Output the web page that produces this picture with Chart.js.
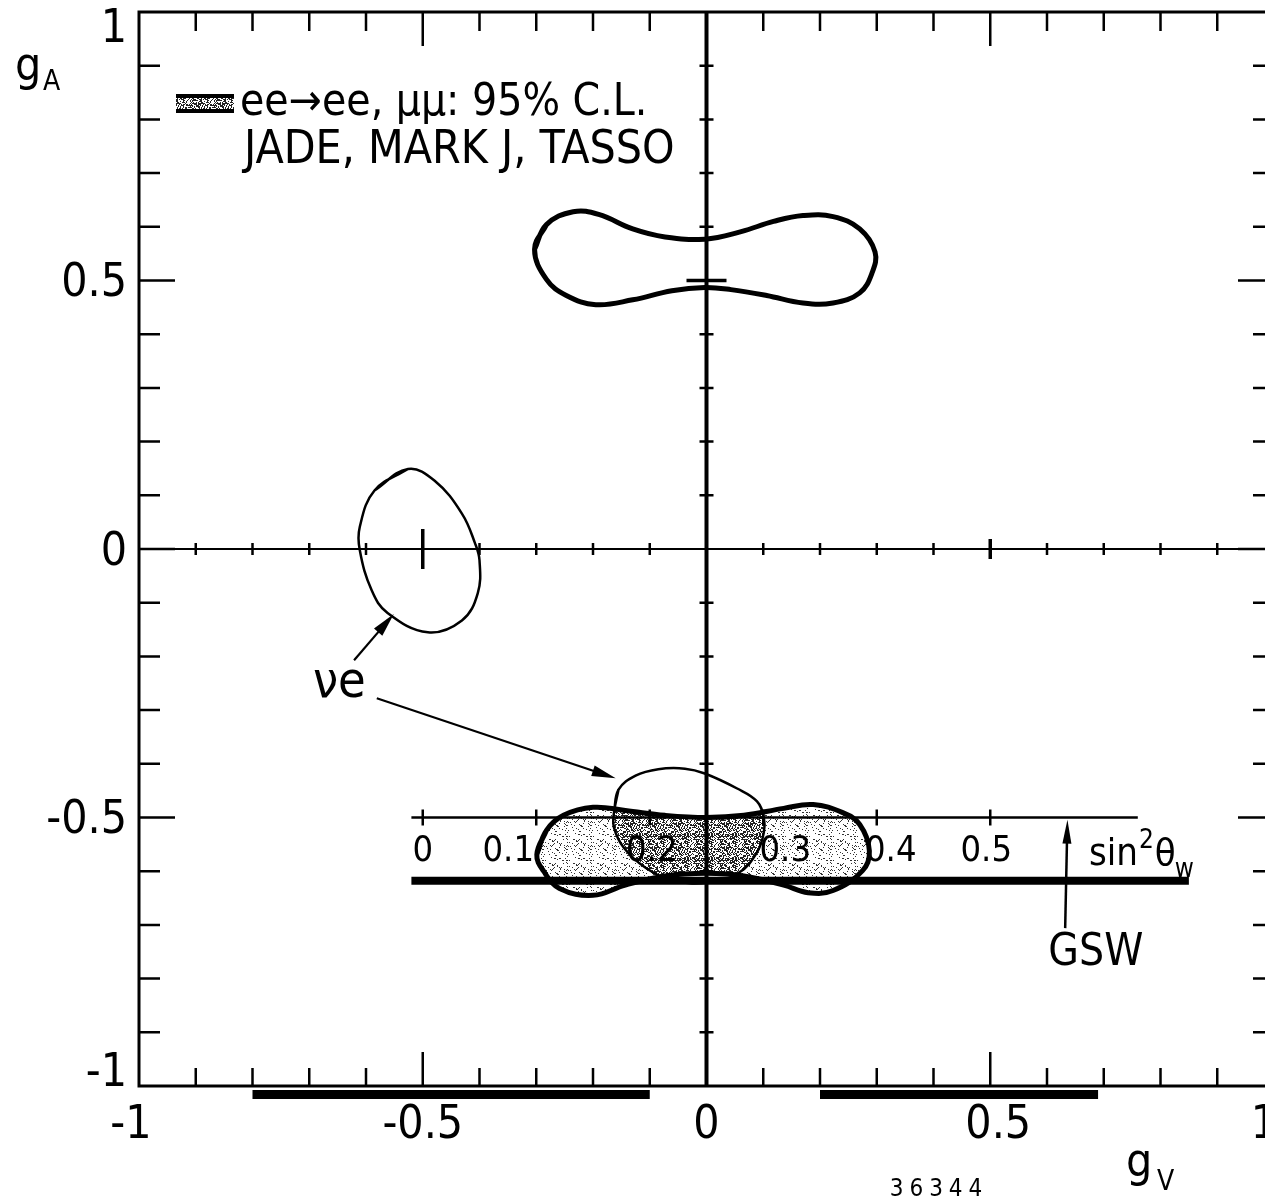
<!DOCTYPE html>
<html>
<head>
<meta charset="utf-8">
<title>gV – gA plane</title>
<script src="https://cdn.jsdelivr.net/npm/chart.js@4/dist/chart.umd.min.js"></script>
<style>
  html, body { margin: 0; padding: 0; background: #fff; overflow: hidden; }
  #wrap { width: 1280px; height: 1203px; position: relative; }
</style>
</head>
<body>
<div id="wrap"><canvas id="c" width="1280" height="1203"></canvas></div>
<script>
// ---- data: contours in the (gV, gA) plane ----
// ee -> ee, mu mu 95% C.L. region, gA > 0 solution
const eeUpper = [
  [-0.303, 0.558], [-0.282, 0.604], [-0.235, 0.628], [-0.190, 0.623], [-0.130, 0.596],
  [-0.073, 0.581], [-0.003, 0.577], [0.061, 0.591], [0.118, 0.610], [0.170, 0.621],
  [0.223, 0.619], [0.270, 0.596], [0.297, 0.553], [0.292, 0.515], [0.270, 0.477],
  [0.223, 0.458], [0.170, 0.458], [0.106, 0.472], [0.043, 0.483], [-0.003, 0.487],
  [-0.061, 0.481], [-0.130, 0.464], [-0.195, 0.455], [-0.247, 0.472], [-0.282, 0.502]
];
// ee -> ee, mu mu 95% C.L. region, gA < 0 solution (shaded)
const eeLower = [
  [-0.299, -0.569], [-0.282, -0.524], [-0.252, -0.496], [-0.200, -0.481], [-0.143, -0.487],
  [-0.073, -0.496], [0.000, -0.500], [0.066, -0.496], [0.136, -0.483], [0.188, -0.476],
  [0.240, -0.491], [0.270, -0.513], [0.287, -0.562], [0.275, -0.599], [0.223, -0.636],
  [0.179, -0.640], [0.136, -0.626], [0.066, -0.609], [0.000, -0.604], [-0.073, -0.609],
  [-0.143, -0.626], [-0.200, -0.645], [-0.259, -0.632], [-0.287, -0.600]
];
// nu e scattering allowed regions
const nuEUpper = [
  [-0.526, 0.149], [-0.585, 0.109], [-0.611, 0.041], [-0.611, -0.002], [-0.590, -0.077],
  [-0.562, -0.119], [-0.491, -0.155], [-0.431, -0.133], [-0.403, -0.082], [-0.400, -0.021],
  [-0.408, 0.011], [-0.431, 0.066], [-0.479, 0.127]
];
const nuELower = [
  [-0.163, -0.491], [-0.155, -0.448], [-0.125, -0.422], [-0.085, -0.410], [-0.038, -0.409],
  [-0.003, -0.418], [0.054, -0.446], [0.089, -0.470], [0.101, -0.500], [0.101, -0.528],
  [0.089, -0.565], [0.057, -0.603], [0.005, -0.621], [-0.056, -0.618], [-0.108, -0.593],
  [-0.146, -0.556], [-0.163, -0.519]
];
// GSW prediction gA = -1/2 and the sin^2 theta_W scale underneath it
const gswLine = [[-0.52, -0.5], [0.76, -0.5]];
const sinScaleBase = [[-0.52, -0.618], [0.85, -0.618]];
const sinTicks = [0, 0.1, 0.2, 0.3, 0.4, 0.5];
// gV ranges marked below the axis
const gvBands = [[-0.80, -0.10], [0.20, 0.69]];
// axis tick labels
const gvTickValues = [-1, -0.5, 0, 0.5, 1];
const gvTickLabels = ['-1', '-0.5', '0', '0.5', '1'];
const gaTickValues = [1, 0.5, 0, -0.5, -1];
const gaTickLabels = ['1', '0.5', '0', '-0.5', '-1'];

// ---- annotation anchors (data coordinates) ----
const notes = {
  nuLabel: [-0.647, -0.252],
  nuArrow1: [[-0.621, -0.207], [-0.551, -0.121]],
  nuArrow2: [[-0.581, -0.278], [-0.160, -0.427]],
  gswArrow: [[0.632, -0.706], [0.636, -0.504]],
  gswLabel: [0.686, -0.754],
  sinLabel: [0.674, -0.588]
};
// horizontal nudges of the sin^2 labels relative to their ticks (px)
const sinLabelShift = [0, -28, 2, 22, 14, -4];

const FONT = '"Liberation Sans Narrow", "DejaVu Sans Condensed", "Liberation Sans", sans-serif';
const font = px => px + 'px ' + FONT;

function pts(arr) { return arr.map(([gV, gA]) => ({ x: gV, y: gA })); }
// closed contour: repeat the first two points so the smoothed curve joins cleanly
function loop(arr) { return pts(arr.concat([arr[0], arr[1]])); }

// dotted screen-tone fill
function stipple(density, shade) {
  const n = 24;
  const c = document.createElement('canvas');
  c.width = c.height = n;
  const g = c.getContext('2d');
  g.fillStyle = '#fff';
  g.fillRect(0, 0, n, n);
  g.fillStyle = shade;
  for (let j = 0; j < n; j++) {
    for (let i = 0; i < n; i++) {
      let h = (i * 374761393 + j * 668265263) >>> 0;
      h = Math.imul(h ^ (h >>> 13), 1274126177) >>> 0;
      h = (h ^ (h >>> 16)) >>> 0;
      if ((h % 1000) / 1000 < density) g.fillRect(i, j, 1, 1);
    }
  }
  return g.createPattern(c, 'repeat');
}
const lightStipple = stipple(0.13, '#333');
const denseStipple = stipple(0.5, '#222');

function tracePath(ctx, points) {
  ctx.moveTo(points[0].x, points[0].y);
  for (let i = 1; i < points.length; i++) {
    const p = points[i - 1], q = points[i];
    if (p.cp2x !== undefined && q.cp1x !== undefined) {
      ctx.bezierCurveTo(p.cp2x, p.cp2y, q.cp1x, q.cp1y, q.x, q.y);
    } else {
      ctx.lineTo(q.x, q.y);
    }
  }
  ctx.closePath();
}

function arrow(ctx, x1, y1, x2, y2, len, half) {
  const ang = Math.atan2(y2 - y1, x2 - x1);
  ctx.beginPath();
  ctx.moveTo(x1, y1);
  ctx.lineTo(x2 - Math.cos(ang) * len * 0.6, y2 - Math.sin(ang) * len * 0.6);
  ctx.stroke();
  ctx.beginPath();
  ctx.moveTo(x2, y2);
  ctx.lineTo(x2 - Math.cos(ang) * len - Math.sin(ang) * half, y2 - Math.sin(ang) * len + Math.cos(ang) * half);
  ctx.lineTo(x2 - Math.cos(ang) * len + Math.sin(ang) * half, y2 - Math.sin(ang) * len - Math.cos(ang) * half);
  ctx.closePath();
  ctx.fill();
}

function text(ctx, s, x, y, size, align, baseline) {
  ctx.font = font(size);
  ctx.textAlign = align || 'left';
  ctx.textBaseline = baseline || 'alphabetic';
  ctx.fillText(s, x, y);
  return ctx.measureText(s).width;
}

const decor = {
  id: 'decor',
  beforeDatasetsDraw(chart) {
    const { ctx, chartArea: a, scales: { x, y } } = chart;
    const ee = chart.getDatasetMeta(1).data;
    const nu = chart.getDatasetMeta(3).data;
    ctx.save();
    ctx.beginPath();
    ctx.rect(a.left, a.top, a.right - a.left, a.bottom - a.top);
    ctx.clip();
    // shaded ee -> ee region, darker where the nu e region overlaps it
    ctx.beginPath(); tracePath(ctx, ee);
    ctx.fillStyle = lightStipple; ctx.fill();
    ctx.beginPath(); tracePath(ctx, ee); ctx.clip();
    ctx.beginPath(); tracePath(ctx, nu);
    ctx.fillStyle = denseStipple; ctx.fill();
    ctx.restore();

    // axes through the origin
    const x0 = x.getPixelForValue(0), y0 = y.getPixelForValue(0);
    ctx.save();
    ctx.strokeStyle = '#000';
    ctx.lineWidth = 4;
    ctx.beginPath(); ctx.moveTo(x0, a.top); ctx.lineTo(x0, a.bottom); ctx.stroke();
    ctx.lineWidth = 2;
    ctx.beginPath(); ctx.moveTo(a.left, y0); ctx.lineTo(a.right, y0); ctx.stroke();
    for (let i = -9; i <= 9; i++) {
      if (i === 0) continue;
      const v = i / 10, major = i % 5 === 0;
      const px = x.getPixelForValue(v), py = y.getPixelForValue(v);
      ctx.lineWidth = major ? 3.5 : 2.5;
      ctx.beginPath();
      ctx.moveTo(x0 - (major ? 20 : 7), py); ctx.lineTo(x0 + (major ? 20 : 7), py);
      const hv = i === -5 ? 20 : major ? 10 : 6;
      ctx.moveTo(px, y0 - hv); ctx.lineTo(px, y0 + hv);
      ctx.stroke();
    }
    ctx.restore();
  },
  afterDatasetsDraw(chart) {
    const { ctx, chartArea: a, scales: { x, y } } = chart;
    const X = v => x.getPixelForValue(v), Y = v => y.getPixelForValue(v);
    ctx.save();
    ctx.strokeStyle = '#000';
    ctx.fillStyle = '#000';

    // frame and inward ticks
    ctx.lineWidth = 3;
    ctx.strokeRect(a.left, a.top, a.right - a.left, a.bottom - a.top);
    ctx.lineWidth = 2.5;
    ctx.beginPath();
    for (let i = -9; i <= 9; i++) {
      const v = i / 10, major = i % 5 === 0;
      const px = X(v), py = Y(v);
      ctx.moveTo(px, a.bottom); ctx.lineTo(px, a.bottom - (major ? 34 : 18));
      ctx.moveTo(px, a.top); ctx.lineTo(px, a.top + (major ? 34 : 19));
      ctx.moveTo(a.left, py); ctx.lineTo(a.left + (major ? 36 : 21), py);
      ctx.moveTo(a.right, py); ctx.lineTo(a.right - (major ? 36 : 21), py);
    }
    ctx.stroke();

    // tick labels
    gaTickValues.forEach((v, i) => {
      const off = v === 1 ? 18 : v === -1 ? -12 : 4;
      text(ctx, gaTickLabels[i], 127, Y(v) + off, 46, 'right', 'middle');
    });
    gvTickValues.forEach((v, i) => {
      const off = v === -1 ? -8 : v === 1 ? -10 : v === 0.5 ? 8 : 0;
      text(ctx, gvTickLabels[i], X(v) + off, 1126, 46, 'center', 'middle');
    });

    // gV ranges below the axis
    gvBands.forEach(([lo, hi]) => {
      ctx.fillRect(X(lo), a.bottom + 4, X(hi) - X(lo), 9);
    });

    // sin^2 theta_W scale: gV = -1/2 + 2 sin^2 theta_W on the gA = -1/2 line
    const yLine = Y(gswLine[0][1]);
    const yBase = Y(sinScaleBase[0][1]);
    ctx.lineWidth = 2.5;
    ctx.beginPath();
    sinTicks.forEach(s => {
      const px = X(-0.5 + 2 * s);
      ctx.moveTo(px, yLine - 8); ctx.lineTo(px, yLine + 8);
    });
    ctx.stroke();
    sinTicks.forEach((s, k) => {
      text(ctx, String(s), X(-0.5 + 2 * s) + sinLabelShift[k], (yLine + yBase) / 2 + 2, 36, 'center', 'middle');
    });

    // GSW arrow and labels
    ctx.lineWidth = 2.5;
    const ga = notes.gswArrow;
    arrow(ctx, X(ga[0][0]), Y(ga[0][1]), X(ga[1][0]), Y(ga[1][1]), 24, 4.5);
    text(ctx, 'GSW', X(notes.gswLabel[0]), Y(notes.gswLabel[1]), 44, 'center', 'middle');
    let sx = X(notes.sinLabel[0]), sy = Y(notes.sinLabel[1]);
    sx += text(ctx, 'sin', sx, sy, 38);
    sx += text(ctx, '2', sx + 1, sy - 17, 26) + 2;
    sx += text(ctx, 'θ', sx, sy, 38);
    text(ctx, 'w', sx - 1, sy + 12, 26);

    // nu e label and arrows
    text(ctx, 'νe', X(notes.nuLabel[0]), Y(notes.nuLabel[1]), 50, 'center', 'middle');
    ctx.lineWidth = 2.2;
    [notes.nuArrow1, notes.nuArrow2].forEach(([p, q]) => {
      arrow(ctx, X(p[0]), Y(p[1]), X(q[0]), Y(q[1]), 24, 5.5);
    });

    // legend
    ctx.fillStyle = denseStipple;
    ctx.fillRect(176, 96, 58, 15);
    ctx.fillStyle = '#000';
    ctx.fillRect(176, 94, 58, 4);
    ctx.fillRect(176, 109, 58, 4);
    text(ctx, 'ee→ee, μμ: 95% C.L.', 240, 104, 44, 'left', 'middle');
    text(ctx, 'JADE, MARK J, TASSO', 244, 151, 46, 'left', 'middle');

    // axis titles
    text(ctx, 'g', 15, 80, 46);
    text(ctx, 'A', 43, 90, 28);
    text(ctx, 'g', 1126, 1176, 46);
    text(ctx, 'V', 1157, 1190, 28);

    ctx.font = font(24);
    ctx.letterSpacing = '6px';
    ctx.textAlign = 'center';
    ctx.textBaseline = 'middle';
    ctx.fillText('36344', 939, 1190);
    ctx.letterSpacing = '0px';
    ctx.restore();
  }
};

const contour = (data, width) => ({
  data, showLine: true, tension: 0.4, pointRadius: 0,
  borderColor: '#000', borderWidth: width, fill: false
});

new Chart(document.getElementById('c'), {
  type: 'scatter',
  data: {
    datasets: [
      { label: 'ee→ee, μμ (gA > 0)', ...contour(loop(eeUpper), 5) },
      { label: 'ee→ee, μμ (gA < 0)', ...contour(loop(eeLower), 5) },
      { label: 'νe (1)', ...contour(loop(nuEUpper), 2.5) },
      { label: 'νe (2)', ...contour(loop(nuELower), 2.5) },
      { label: 'GSW', ...contour(pts(gswLine), 2.5), tension: 0 },
      { label: 'sin²θw scale', ...contour(pts(sinScaleBase), 8), tension: 0 }
    ]
  },
  options: {
    responsive: false,
    maintainAspectRatio: false,
    animation: false,
    events: [],
    layout: { padding: { left: 139, right: 6, top: 12, bottom: 117 } },
    plugins: { legend: { display: false }, tooltip: { enabled: false }, title: { display: false } },
    scales: {
      x: { type: 'linear', min: -1, max: 1, display: false },
      y: { type: 'linear', min: -1, max: 1, display: false }
    }
  },
  plugins: [decor]
});
</script>
</body>
</html>
